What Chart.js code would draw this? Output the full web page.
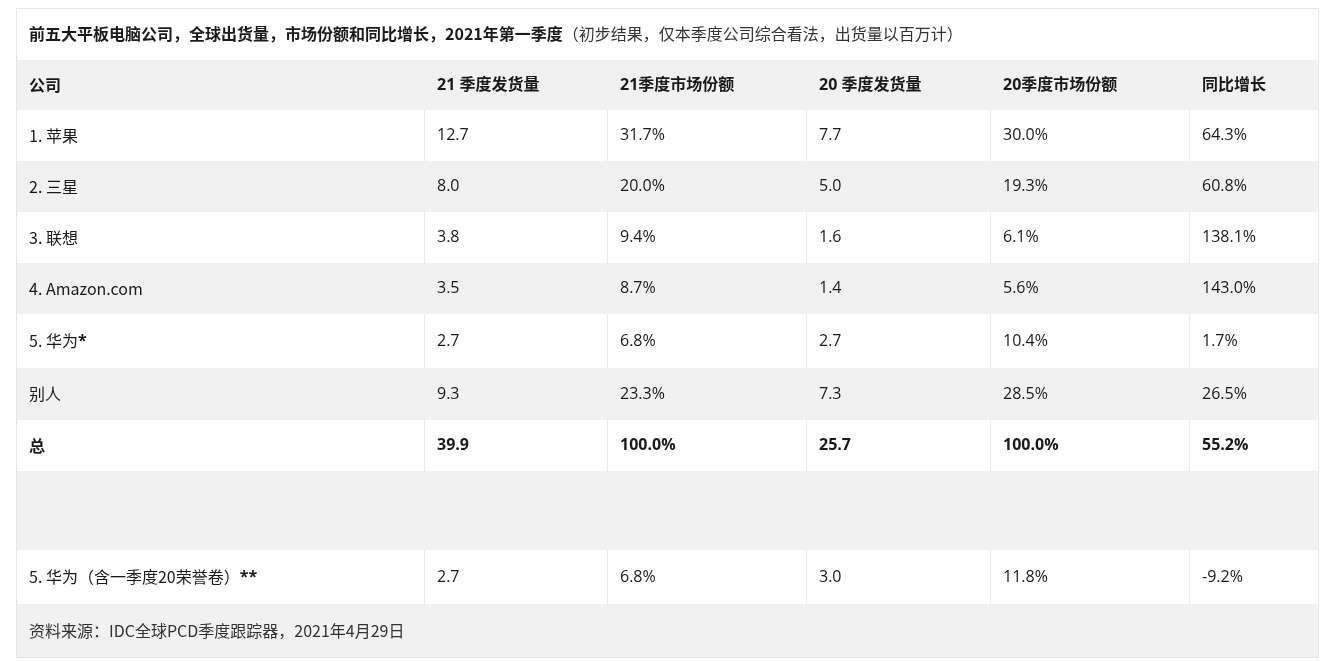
<!DOCTYPE html>
<html>
<head>
<meta charset="utf-8">
<script src="https://cdn.jsdelivr.net/npm/chart.js@4"></script>
<style>
  html, body { margin: 0; padding: 0; background: #fff; }
  #wrap { width: 1330px; height: 662px; }
</style>
</head>
<body>
<div id="wrap"><canvas id="table"></canvas></div>
<script>
(function () {
    "use strict";

    // Table data
    const titleBold = "前五大平板电脑公司，全球出货量，市场份额和同比增长，2021年第一季度";
    const titleNote = "（初步结果，仅本季度公司综合看法，出货量以百万计）";
    const headers = ["公司", "21 季度发货量", "21季度市场份额", "20 季度发货量", "20季度市场份额", "同比增长"];
    const companies = ["1. 苹果", "2. 三星", "3. 联想", "4. Amazon.com", "5. 华为*", "别人", "总", "", "5. 华为（含一季度20荣誉卷）**"];
    const ship21 = ["12.7", "8.0", "3.8", "3.5", "2.7", "9.3", "39.9", "", "2.7"];
    const share21 = ["31.7%", "20.0%", "9.4%", "8.7%", "6.8%", "23.3%", "100.0%", "", "6.8%"];
    const ship20 = ["7.7", "5.0", "1.6", "1.4", "2.7", "7.3", "25.7", "", "3.0"];
    const share20 = ["30.0%", "19.3%", "6.1%", "5.6%", "10.4%", "28.5%", "100.0%", "", "11.8%"];
    const growth = ["64.3%", "60.8%", "138.1%", "143.0%", "1.7%", "26.5%", "55.2%", "", "-9.2%"];
    const source = "资料来源：IDC全球PCD季度跟踪器，2021年4月29日";

    // layout (scale units = page pixels)
    const colEdges = [16, 424, 607, 806, 990, 1189, 1318];
    const rowEdges = [8, 60, 110, 161, 212, 263, 314, 368, 420, 471, 550, 604, 657];
    const FONT = "'Noto Sans CJK SC', 'Open Sans', sans-serif";
    const LATIN = "'Open Sans', 'Noto Sans CJK SC', sans-serif";

    const tablePlugin = {
        id: "tablePlugin",
        beforeDraw(chart) {
            const ctx = chart.ctx;
            const x = chart.scales.x, y = chart.scales.y;
            const px = v => x.getPixelForValue(v);
            const py = v => y.getPixelForValue(v);
            const L = px(colEdges[0]), R = px(colEdges[colEdges.length - 1]);
            const columns = [companies, ship21, share21, ship20, share20, growth];

            ctx.save();
            ctx.textBaseline = "middle";
            const nRows = rowEdges.length - 1;
            for (let r = 0; r < nRows; r++) {
                const top = py(rowEdges[r]), bot = py(rowEdges[r + 1]);
                const mid = (top + bot) / 2;
                const gray = r % 2 === 1;
                ctx.fillStyle = gray ? "#f1f1f1" : "#ffffff";
                ctx.fillRect(L, top, R - L, bot - top);
                const dataIdx = r - 2;
                if (r === 0) {
                    ctx.fillStyle = "#1a1a1a";
                    ctx.font = "bold 16px " + FONT;
                    ctx.fillText(titleBold, L + 13, mid);
                    const w = ctx.measureText(titleBold).width;
                    ctx.font = "16px " + FONT;
                    ctx.fillStyle = "#333";
                    ctx.fillText(titleNote, L + 13 + w, mid);
                    continue;
                }
                if (r === nRows - 1) {
                    ctx.fillStyle = "#333";
                    ctx.font = "16px " + FONT;
                    ctx.fillText(source, L + 13, mid);
                    continue;
                }
                // column separators on white rows
                if (!gray) {
                    ctx.strokeStyle = "#ebebeb";
                    ctx.lineWidth = 1;
                    for (let c = 1; c < colEdges.length - 1; c++) {
                        const cx = Math.round(px(colEdges[c])) + 0.5;
                        ctx.beginPath();
                        ctx.moveTo(cx, top);
                        ctx.lineTo(cx, bot);
                        ctx.stroke();
                    }
                }
                const bold = r === 1 || dataIdx === 6;
                ctx.fillStyle = "#1a1a1a";
                for (let c = 0; c < columns.length; c++) {
                    let txt = r === 1 ? headers[c] : columns[c][dataIdx];
                    if (!txt) continue;
                    ctx.font = (bold ? "bold " : "") + "16px " + (c === 0 ? FONT : LATIN);
                    const tx = px(colEdges[c]) + 13;
                    // trailing asterisks are bold in the source
                    const m = c === 0 && !bold ? txt.match(/^(.*?)(\*+)$/) : null;
                    if (m) {
                        ctx.fillText(m[1], tx, mid);
                        const w = ctx.measureText(m[1]).width;
                        ctx.font = "bold 16px " + LATIN;
                        ctx.fillText(m[2], tx + w, mid);
                    } else {
                        ctx.fillText(txt, tx, mid);
                    }
                }
            }
            // outer border
            ctx.strokeStyle = "#e6e6e6";
            ctx.lineWidth = 1;
            ctx.strokeRect(Math.round(L) + 0.5, Math.round(py(rowEdges[0])) + 0.5,
                Math.round(R - L), Math.round(py(rowEdges[nRows]) - py(rowEdges[0])));
            ctx.restore();
        },
    };

    new Chart(document.getElementById("table"), {
        type: "scatter",
        data: { datasets: [{ data: [] }] },
        options: {
            responsive: true,
            maintainAspectRatio: false,
            animation: false,
            layout: { padding: 0 },
            plugins: { legend: { display: false }, tooltip: { enabled: false } },
            scales: {
                x: { type: "linear", min: 0, max: 1330, display: false },
                y: { type: "linear", min: 0, max: 662, reverse: true, display: false },
            },
        },
        plugins: [tablePlugin],
    });
})();
</script>
</body>
</html>
